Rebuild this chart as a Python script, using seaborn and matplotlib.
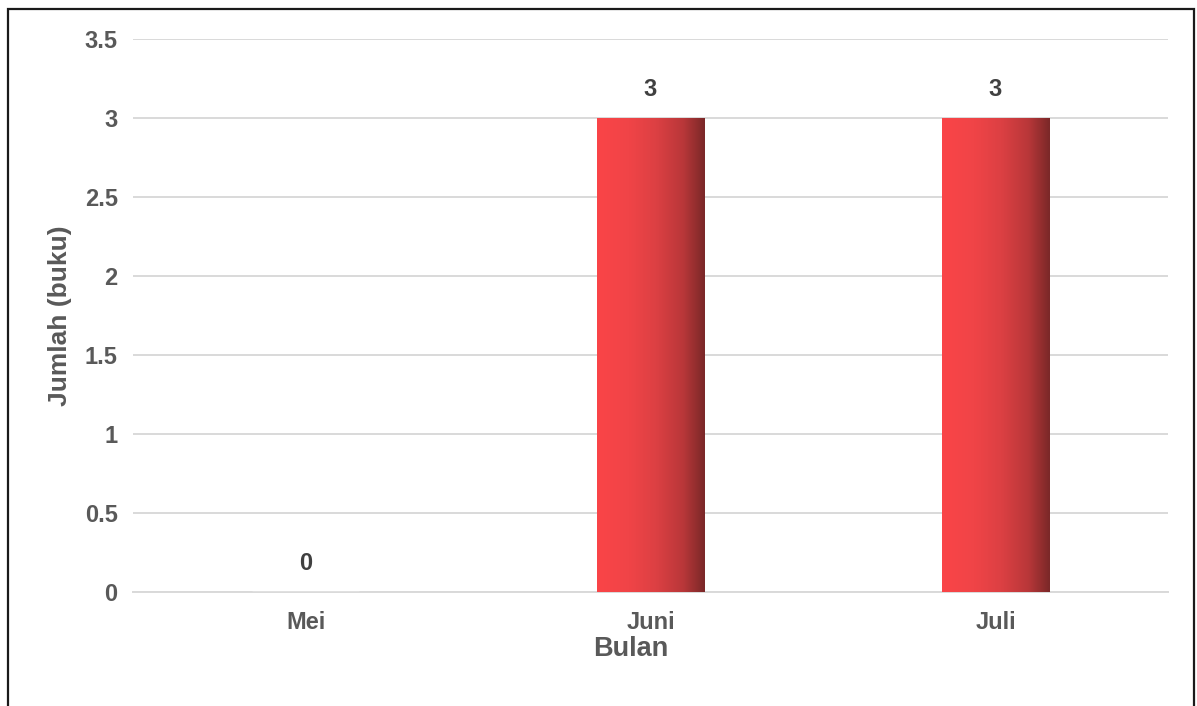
import numpy as np
import pandas as pd
import matplotlib
matplotlib.use("Agg")
import matplotlib.pyplot as plt
import seaborn as sns
from matplotlib.colors import LinearSegmentedColormap
from matplotlib.patches import Rectangle

# Data
bulan = ["Mei", "Juni", "Juli"]
jumlah = [0, 3, 3]
y_ticks = [0, 0.5, 1, 1.5, 2, 2.5, 3, 3.5]
y_tick_labels = ["0", "0.5", "1", "1.5", "2", "2.5", "3", "3.5"]

sns.set_theme(style="white")
plt.rcParams["font.family"] = ["Liberation Sans", "DejaVu Sans"]

TXT = "#595959"
GRID = "#D9D9D9"

fig = plt.figure(figsize=(11.97, 7.06), dpi=100)
ax = fig.add_axes([133/1197, 1-592/706, 1035/1197, 553/706])

df = pd.DataFrame({"Bulan": bulan, "Jumlah": jumlah})
sns.barplot(data=df, x="Bulan", y="Jumlah", ax=ax, width=0.313,
            color="#F94447", saturation=1, zorder=3)

ax.set_xlim(-0.5, 2.5)
ax.set_ylim(0, 3.5)

# gradient fill per bar
cmap = LinearSegmentedColormap.from_list(
    "grad", [(0, "#FA4548"), (0.3, "#F04447"), (0.55, "#DC4043"),
             (0.8, "#B93739"), (1, "#7A2828")])
grad = np.linspace(0, 1, 256).reshape(1, -1)
for p in ax.patches:
    h = p.get_height()
    if h <= 0:
        continue
    x0 = p.get_x(); w = p.get_width()
    im = ax.imshow(grad, cmap=cmap, aspect="auto", extent=[x0, x0 + w, 0, h],
                   zorder=4, interpolation="bicubic")
    im.set_clip_path(p)
    p.set_edgecolor("none")
ax.set_xlim(-0.5, 2.5)
ax.set_ylim(0, 3.5)

# value labels
for i, v in enumerate(jumlah):
    ax.annotate(f"{v}", xy=(i, v), xytext=(0, 12), textcoords="offset points",
                ha="center", va="bottom", fontsize=17, fontweight="bold", color="#404040")

ax.set_yticks(y_ticks)
ax.set_yticklabels(y_tick_labels)
ax.yaxis.grid(True, color=GRID, linewidth=1.4, zorder=0)
ax.set_axisbelow(True)
for s in ["top", "right", "left"]:
    ax.spines[s].set_visible(False)
ax.spines["bottom"].set_color(GRID)
ax.spines["bottom"].set_linewidth(1.4)
ax.tick_params(axis="both", length=0, labelsize=17, labelcolor=TXT)
ax.tick_params(axis="y", pad=11)
ax.tick_params(axis="x", pad=14)
for lbl in ax.get_xticklabels() + ax.get_yticklabels():
    lbl.set_fontweight("bold")

ax.set_xlabel("Bulan", fontsize=19.5, fontweight="bold", color=TXT)
ax.xaxis.set_label_coords((631-133)/1035, -(636-592)/553)
ax.xaxis.label.set_va("top")
ax.set_ylabel("Jumlah (buku)", fontsize=19, fontweight="bold", color=TXT)
ax.yaxis.set_label_coords(-(133-60)/1035, 0.5)
ax.yaxis.label.set_va("center")

# frame around figure
fig.patches.append(Rectangle((8/1197, -0.05), 1186/1197, 1 - 9/706 + 0.05,
                             transform=fig.transFigure, fill=False,
                             edgecolor="#1a1a1a", linewidth=1.6))

fig.savefig("out.png", dpi=100)
